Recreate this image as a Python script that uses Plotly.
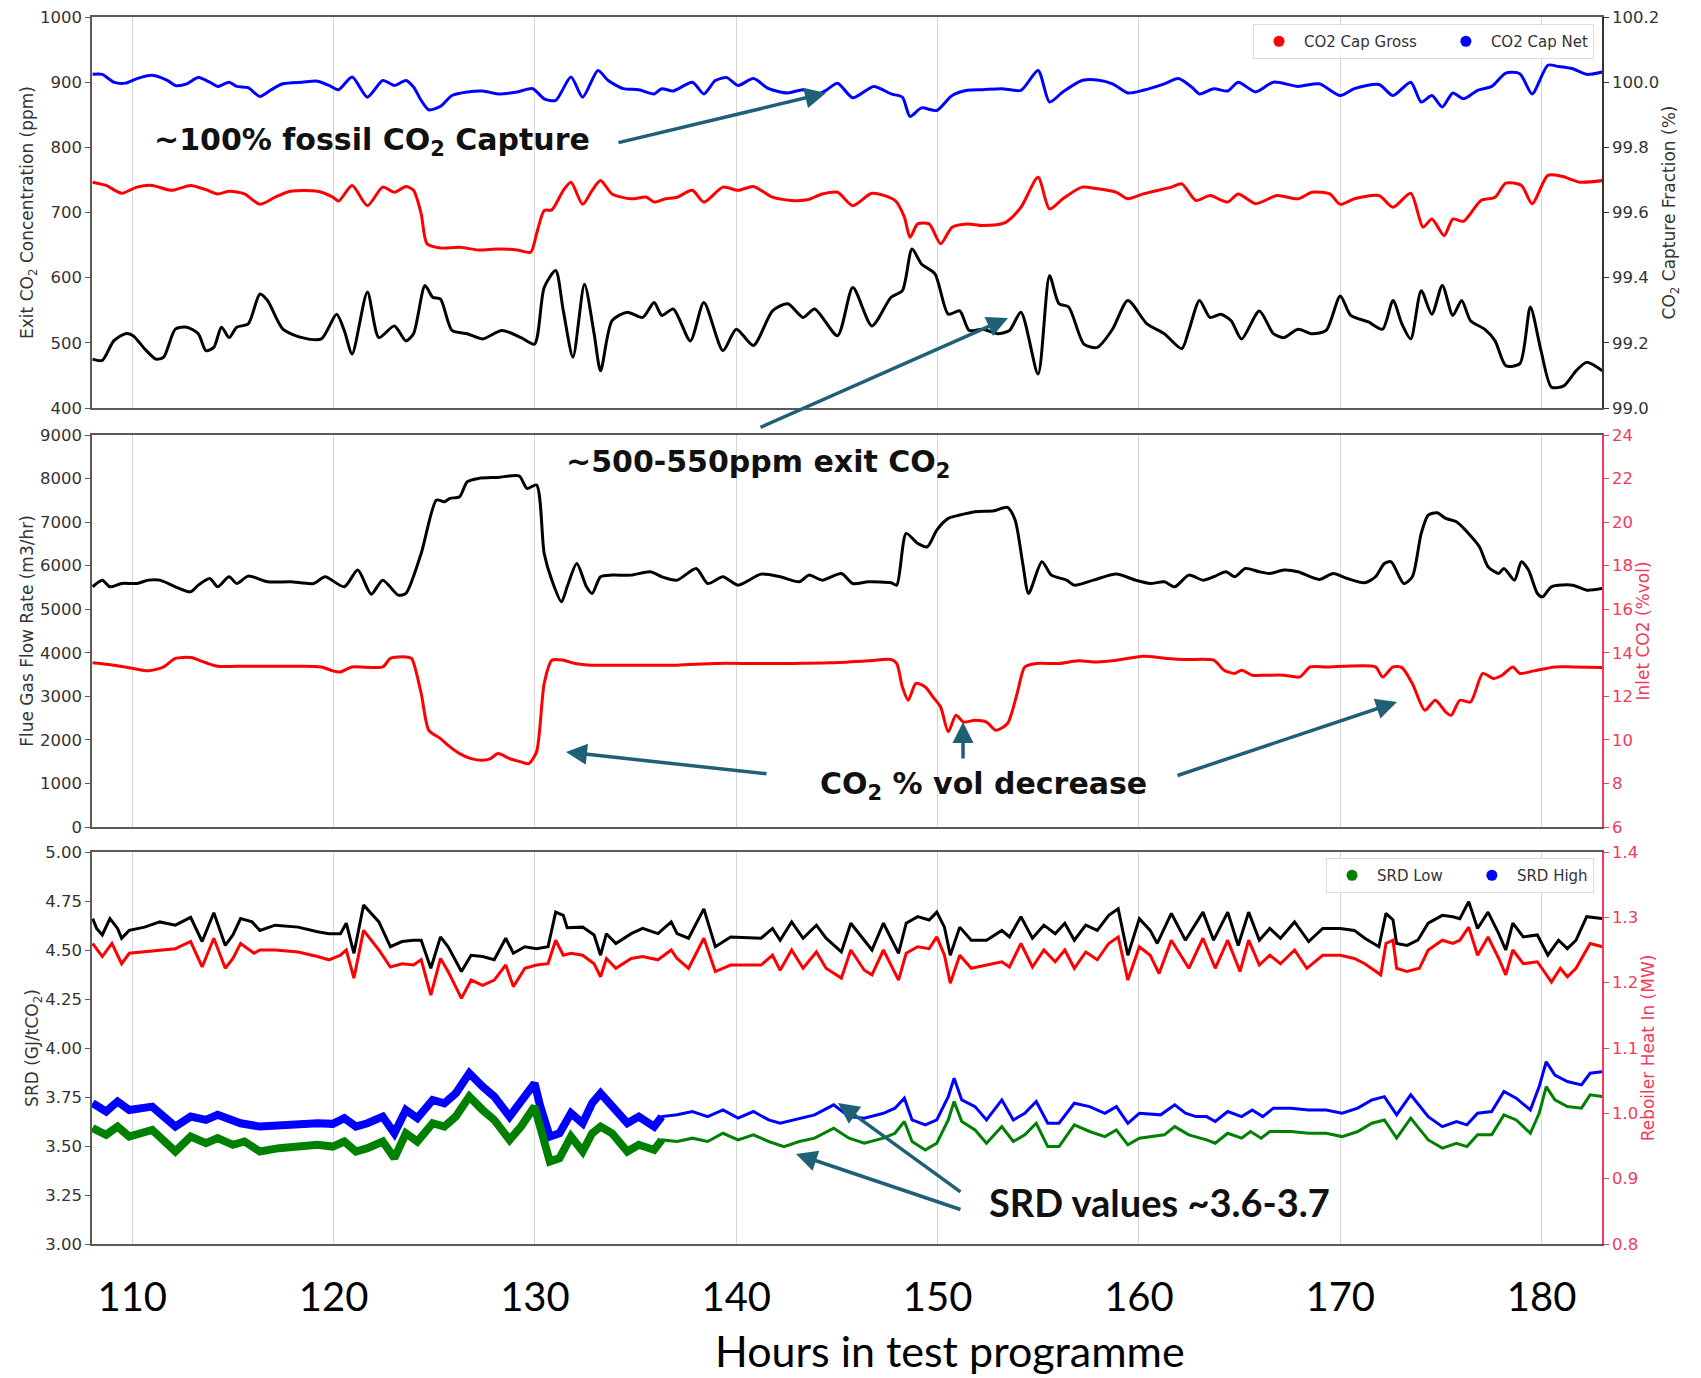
import plotly.graph_objects as go

# ---------------- DATA ----------------
# Panel 1 : exit CO2 (ppm, left) and capture fraction (% , right)
p1_net_x = [108.03,108.51,109.08,109.66,110.23,110.99,111.76,112.14,112.71,113.28,113.85,114.24,114.81,115.19,115.76,116.34,116.91,117.48,118.44,119.20,119.77,120.25,120.92,121.68,122.44,123.02,123.59,123.97,124.35,124.73,125.31,125.88,126.64,127.40,128.17,129.12,129.89,130.46,131.03,131.79,132.37,133.13,
            133.64,134.40,135.16,135.92,136.30,136.87,137.82,138.39,138.96,139.53,140.09,140.85,141.61,142.56,143.32,143.89,144.46,145.03,145.79,146.83,147.69,148.25,148.63,149.20,149.96,150.72,151.48,152.24,153.19,154.14,154.99,155.56,156.22,157.17,157.93,158.69,159.45,160.21,
            161.26,161.96,162.66,163.01,163.71,164.41,164.93,165.80,166.68,167.90,168.95,170.00,170.70,171.92,172.62,173.50,174.02,174.55,175.07,175.59,176.12,176.82,177.52,178.22,178.92,179.53,180.31,180.84,181.54,182.24,183.02]
p1_net_y = [100.024,100.024,100.000,99.997,100.011,100.021,100.005,99.990,99.995,100.014,100.000,99.987,100.000,99.987,99.983,99.956,99.977,99.995,100.000,100.003,99.990,99.977,100.016,99.954,100.005,99.990,100.005,99.985,99.944,99.915,99.926,99.959,99.970,99.973,99.964,99.970,99.980,99.949,99.944,100.016,99.954,100.036,
            100.005,99.980,99.977,99.964,99.980,99.973,100.000,99.964,100.005,100.014,99.990,100.011,99.980,99.967,99.977,99.959,99.975,99.997,99.952,99.987,99.964,99.954,99.895,99.921,99.913,99.959,99.975,99.977,99.980,99.975,100.036,99.939,99.970,100.005,100.007,99.995,99.967,99.975,
            99.995,100.011,99.983,99.964,99.980,99.973,100.000,99.970,100.000,99.987,99.995,99.959,99.980,99.993,99.959,100.000,99.939,99.959,99.924,99.967,99.949,99.975,99.987,100.028,100.026,99.964,100.052,100.048,100.041,100.024,100.031]

p1_gross_x = [108.03,108.70,109.47,110.23,110.99,111.95,112.90,113.66,114.24,114.81,115.57,116.34,117.10,117.86,119.20,119.96,120.25,120.92,121.68,122.44,123.02,123.59,123.97,124.35,124.64,125.31,126.26,127.21,128.17,129.12,129.79,130.08,130.46,130.84,131.41,131.79,132.37,132.84,
              133.26,133.83,134.78,135.54,135.92,136.49,137.06,137.82,138.39,139.34,140.09,140.85,141.80,142.75,143.51,144.27,145.03,145.79,146.74,147.88,148.35,148.63,149.01,149.58,150.15,150.72,151.48,152.24,153.38,154.14,154.99,155.56,156.22,157.17,157.93,158.88,159.45,160.21,
              161.61,162.13,162.83,163.53,164.41,164.93,165.80,166.85,167.90,168.60,169.48,170.00,170.70,171.92,172.62,173.50,174.11,174.55,175.16,175.59,176.12,176.99,177.69,178.22,179.00,179.53,180.31,181.01,181.89,183.02]
p1_gross_y = [99.693,99.683,99.659,99.678,99.683,99.668,99.683,99.670,99.657,99.665,99.657,99.625,99.647,99.665,99.665,99.647,99.635,99.683,99.621,99.678,99.662,99.680,99.668,99.596,99.504,99.491,99.493,99.485,99.488,99.485,99.478,99.534,99.606,99.608,99.668,99.693,99.625,99.668,
              99.698,99.657,99.642,99.647,99.632,99.642,99.647,99.668,99.632,99.678,99.668,99.680,99.647,99.637,99.639,99.657,99.662,99.621,99.659,99.637,99.586,99.524,99.565,99.565,99.504,99.555,99.565,99.560,99.570,99.616,99.708,99.611,99.642,99.678,99.673,99.662,99.642,99.657,
              99.678,99.688,99.637,99.652,99.632,99.657,99.627,99.652,99.642,99.662,99.657,99.625,99.642,99.652,99.616,99.659,99.555,99.580,99.529,99.580,99.573,99.637,99.647,99.690,99.683,99.627,99.714,99.711,99.693,99.698]

p1_exit_x = [108.03,108.51,109.08,109.66,110.04,110.61,111.18,111.56,112.14,112.71,113.28,113.66,114.05,114.43,114.81,115.19,115.76,116.34,116.72,117.48,118.44,119.39,120.15,120.53,120.92,121.68,122.25,123.02,123.59,123.97,124.54,124.92,125.31,125.88,126.64,127.40,128.36,129.31,129.98,130.46,131.03,131.41,131.89,132.46,132.94,
             133.26,133.83,134.59,135.35,135.92,136.30,136.87,137.72,138.39,139.34,140.00,140.85,141.80,142.56,143.32,143.89,145.03,145.79,146.74,147.69,148.25,148.73,149.20,149.87,150.53,151.10,151.57,152.24,152.99,153.57,154.14,154.99,155.56,156.03,156.51,157.27,157.93,158.69,159.45,160.40,
             161.26,162.13,162.48,163.01,163.53,164.06,164.58,165.10,165.98,166.68,167.20,167.90,168.60,169.30,170.00,170.52,171.40,172.10,172.62,173.06,173.50,174.02,174.55,175.07,175.59,176.03,176.47,177.17,177.69,178.22,178.92,179.44,179.97,180.49,181.10,181.71,182.24,183.02]
p1_exit_y = [475,473,503,514,511,491,475,478,521,524,514,488,493,524,508,524,529,575,565,521,508,506,544,519,483,578,508,526,503,514,588,570,567,519,514,506,519,508,498,585,611,549,478,590,514,
             457,534,547,539,562,542,552,503,562,488,521,496,549,560,539,552,511,585,526,570,580,644,621,606,544,549,519,521,514,519,547,452,603,560,555,498,493,521,565,529,
             514,491,519,565,539,544,534,506,549,514,508,521,514,519,572,542,532,521,565,529,506,580,544,588,542,565,534,521,503,465,468,555,488,432,434,457,470,457]

# Panel 2 : flue gas flow (m3/hr, left) and inlet CO2 (%vol, right)
p2_flow_x = [108.03,108.51,108.89,109.47,110.23,110.80,111.37,112.14,112.90,113.28,113.85,114.24,114.81,115.19,115.76,116.72,117.86,119.01,119.58,120.53,121.20,121.87,122.44,123.21,123.59,124.35,125.11,125.50,125.78,126.26,126.64,127.21,128.17,129.22,129.60,130.08,130.46,130.84,131.32,131.60,132.08,132.56,132.84,
             133.26,133.83,134.78,135.73,136.30,137.06,138.01,138.58,139.34,140.09,141.23,142.18,143.13,143.61,144.27,145.22,145.79,146.55,147.69,147.97,148.44,149.01,149.49,149.96,150.53,151.10,151.86,152.81,153.47,153.85,154.23,154.52,155.18,155.65,156.41,156.79,157.74,158.88,159.83,
             160.56,161.26,161.78,162.48,163.18,163.71,164.32,164.76,165.28,165.98,166.50,167.20,167.90,168.95,169.65,170.35,171.22,171.75,172.19,172.53,173.15,173.58,174.02,174.37,174.81,175.24,175.77,176.29,176.91,177.34,177.87,178.13,178.65,179.00,179.35,179.79,180.05,180.49,181.54,182.24,183.02]
p2_flow_y = [5515,5668,5515,5591,5591,5668,5668,5515,5400,5553,5706,5515,5745,5591,5760,5630,5630,5591,5745,5515,5898,5346,5668,5323,5362,6281,7506,7468,7545,7583,7928,8004,8027,8058,7774,7851,6281,5668,5170,5515,6051,5515,5362,
             5745,5783,5783,5859,5745,5668,5936,5591,5745,5553,5806,5745,5630,5783,5668,5821,5591,5630,5607,5553,6740,6511,6434,6817,7085,7162,7238,7261,7338,7047,6051,5362,6089,5783,5668,5553,5668,5806,5668,
             5591,5630,5515,5783,5668,5745,5859,5745,5936,5859,5821,5898,5859,5683,5821,5706,5607,5745,6051,6089,5591,5745,6740,7162,7215,7085,7008,6779,6434,5974,5821,5936,5668,6089,5898,5362,5285,5515,5553,5438,5476]

p2_inlet_x = [108.03,109.08,110.04,110.80,111.56,112.14,112.90,113.66,114.24,115.19,116.72,118.24,119.39,119.96,120.34,120.92,122.44,122.82,123.59,123.87,124.35,124.73,125.31,125.69,126.26,126.83,127.40,127.79,128.17,128.74,129.31,129.69,130.08,130.46,130.84,131.41,131.98,132.84,
              133.26,135.16,137.06,138.96,140.85,142.75,144.65,146.55,147.69,147.97,148.25,148.54,148.92,149.39,149.77,150.15,150.53,150.91,151.29,151.86,152.43,152.90,153.47,153.95,154.33,154.90,156.03,156.98,157.93,158.88,160.21,
              161.43,162.31,163.71,164.23,164.76,165.10,165.63,166.33,167.20,167.99,168.51,169.30,170.17,171.75,172.10,172.62,173.06,173.58,174.20,174.72,175.24,175.51,175.94,176.47,177.08,177.60,178.04,178.57,178.92,179.62,180.66,181.54,183.02]
p2_inlet_y = [13.54,13.43,13.28,13.17,13.35,13.74,13.78,13.54,13.38,13.38,13.38,13.38,13.35,13.17,13.12,13.35,13.35,13.74,13.81,13.74,12.13,10.44,10.06,9.75,9.37,9.14,9.06,9.14,9.37,9.14,8.99,8.91,9.45,12.59,13.66,13.66,13.51,13.43,
              13.43,13.43,13.43,13.51,13.51,13.51,13.54,13.63,13.69,13.51,12.43,11.82,12.59,12.43,11.97,11.51,10.37,11.13,10.82,10.90,10.82,10.44,10.75,12.13,13.35,13.51,13.51,13.63,13.58,13.66,13.84,
              13.74,13.69,13.66,13.20,13.05,13.20,12.97,12.97,12.97,12.89,13.35,13.35,13.38,13.35,12.89,13.35,13.32,12.59,11.36,11.82,11.28,11.13,11.82,11.74,13.05,12.82,12.97,13.35,13.05,13.17,13.35,13.35,13.32]

# Panel 3 : reboiler heat (MW, right) and SRD (GJ/tCO2, left)
p3_heat_a_x = [108.03,108.23,108.51,108.89,109.27,109.47,109.85,110.61,111.37,112.14,112.90,113.47,114.05,114.62,115.00,115.38,115.95,116.34,117.10,118.24,119.20,119.77,120.34,120.63,121.01,121.49,122.25,122.82,123.40,123.97,124.35,124.83,125.31,125.69,126.35,126.83,127.40,127.98,128.55,128.93,129.50,130.08,130.65,131.03,131.41,131.60,132.37,132.94,
               133.26,133.55,134.02,134.78,135.35,136.11,136.77,137.06,137.63,138.39,138.96,139.72,141.23,141.80,142.18,142.75,143.32,143.98,144.46,145.22,145.69,146.36,146.74,147.31,148.06,148.44,149.01,149.58,149.96,150.34,150.63,151.10,151.67,152.43,153.19,153.57,154.14,154.71,155.28,155.84,156.32,156.79,157.36,157.93,158.50,158.97,159.45,160.02,
               160.56,160.91,161.61,162.31,163.18,163.71,164.41,164.93,165.45,165.98,166.50,167.03,167.73,168.43,169.13,170.00,170.70,171.22,171.92,172.27,172.62,172.80,173.32,173.85,174.37,175.07,175.59,175.94,176.38,176.82,177.34,177.87,178.22,178.57,179.09,179.79,180.31,180.84,181.28,181.71,182.24,183.02]
p3_heat_a_y = [1.298,1.283,1.273,1.298,1.283,1.268,1.280,1.285,1.293,1.288,1.300,1.263,1.307,1.257,1.273,1.298,1.293,1.280,1.288,1.285,1.278,1.275,1.275,1.291,1.245,1.319,1.293,1.255,1.263,1.265,1.265,1.222,1.270,1.255,1.217,1.242,1.240,1.235,1.268,1.245,1.255,1.252,1.255,1.308,1.303,1.284,1.285,1.273,
               1.242,1.275,1.260,1.275,1.283,1.275,1.293,1.275,1.268,1.313,1.255,1.270,1.268,1.283,1.265,1.293,1.268,1.288,1.268,1.247,1.291,1.265,1.250,1.291,1.245,1.291,1.301,1.296,1.308,1.285,1.242,1.285,1.265,1.265,1.280,1.270,1.301,1.268,1.288,1.275,1.291,1.265,1.288,1.280,1.303,1.313,1.242,1.298,
               1.280,1.260,1.306,1.265,1.308,1.265,1.308,1.257,1.308,1.265,1.283,1.268,1.293,1.263,1.283,1.283,1.280,1.268,1.255,1.306,1.296,1.260,1.257,1.265,1.291,1.303,1.301,1.298,1.324,1.283,1.308,1.275,1.250,1.291,1.270,1.273,1.242,1.265,1.252,1.265,1.301,1.298]

p3_heat_b_x = [108.03,108.51,108.99,109.47,109.85,110.61,111.37,112.14,112.90,113.47,114.05,114.62,115.00,115.38,116.05,116.34,117.10,118.24,119.20,119.77,120.34,120.63,121.01,121.49,122.25,122.82,123.40,123.97,124.35,124.83,125.31,125.69,126.35,126.83,127.40,127.98,128.55,128.93,129.50,130.08,130.65,131.03,131.41,131.79,132.37,132.94,
               133.26,133.55,134.02,134.78,135.35,136.11,136.77,137.06,137.63,138.39,138.96,139.72,141.23,141.80,142.18,142.75,143.32,143.98,144.46,145.22,145.69,146.36,146.74,147.31,148.06,148.44,149.01,149.58,149.96,150.34,150.63,151.10,151.67,152.43,153.19,153.57,154.14,154.71,155.28,155.84,156.32,156.79,157.36,157.93,158.50,158.97,159.45,160.02,
               160.56,161.00,161.61,162.48,163.18,163.79,164.41,165.02,165.45,165.98,166.50,167.03,167.73,168.34,169.13,170.00,170.70,171.22,172.01,172.27,172.62,172.80,173.32,173.93,174.37,175.07,175.59,175.94,176.38,176.82,177.34,177.87,178.22,178.57,179.09,179.79,180.49,180.93,181.28,181.71,182.41,183.02]
p3_heat_b_y = [1.260,1.240,1.260,1.229,1.245,1.247,1.250,1.252,1.263,1.224,1.268,1.222,1.237,1.260,1.245,1.250,1.250,1.247,1.240,1.235,1.242,1.250,1.207,1.280,1.250,1.224,1.229,1.227,1.235,1.181,1.237,1.217,1.176,1.204,1.196,1.204,1.227,1.194,1.222,1.227,1.229,1.265,1.242,1.245,1.242,1.229,
               1.209,1.237,1.222,1.237,1.240,1.235,1.250,1.237,1.222,1.268,1.217,1.227,1.227,1.242,1.219,1.250,1.222,1.247,1.222,1.207,1.250,1.219,1.212,1.250,1.204,1.245,1.255,1.252,1.270,1.242,1.199,1.242,1.222,1.227,1.232,1.224,1.260,1.224,1.250,1.232,1.250,1.222,1.247,1.235,1.260,1.270,1.204,1.255,
               1.242,1.214,1.265,1.222,1.268,1.222,1.265,1.217,1.265,1.227,1.242,1.229,1.250,1.222,1.242,1.242,1.237,1.229,1.212,1.260,1.265,1.222,1.217,1.222,1.250,1.265,1.260,1.265,1.285,1.242,1.270,1.237,1.212,1.250,1.229,1.232,1.201,1.222,1.209,1.222,1.260,1.255]

srd_high_x = [108.03,108.70,109.27,109.85,110.99,112.14,112.90,113.66,114.24,114.81,115.38,116.34,117.29,118.24,119.20,119.96,120.53,121.11,121.68,122.44,123.02,123.59,124.16,124.92,125.50,126.07,126.74,127.40,127.98,128.74,129.31,129.98,130.27,130.74,131.22,131.79,132.37,132.84,
              133.26,133.83,134.59,135.16,135.92,136.30,137.06,137.82,138.58,139.34,140.09,140.85,141.61,142.18,143.13,143.89,144.84,145.60,146.36,147.31,147.88,148.35,148.73,149.39,149.96,150.53,150.82,151.20,151.86,152.43,153.19,153.76,154.33,154.90,155.47,156.03,156.79,157.55,158.31,158.88,159.45,160.02,
              161.08,161.78,162.31,162.83,163.36,163.79,164.41,165.10,165.63,166.15,166.68,167.55,168.43,169.30,170.09,170.87,171.57,172.19,172.80,173.50,174.37,175.07,175.77,176.29,176.82,177.52,178.13,178.74,179.44,179.88,180.23,180.66,181.28,181.98,182.41,183.02]
srd_high_y = [3.718,3.676,3.727,3.684,3.701,3.599,3.650,3.633,3.659,3.633,3.616,3.599,3.608,3.616,3.616,3.613,3.642,3.599,3.616,3.650,3.565,3.684,3.642,3.735,3.718,3.769,3.871,3.803,3.752,3.650,3.735,3.820,3.701,3.548,3.565,3.667,3.616,3.718,
              3.769,3.701,3.616,3.650,3.599,3.650,3.659,3.676,3.650,3.684,3.642,3.676,3.633,3.616,3.642,3.659,3.710,3.650,3.642,3.667,3.693,3.744,3.633,3.608,3.633,3.752,3.846,3.735,3.701,3.633,3.735,3.633,3.667,3.727,3.616,3.616,3.718,3.701,3.667,3.701,3.616,3.667,
              3.659,3.710,3.667,3.650,3.650,3.625,3.676,3.650,3.684,3.650,3.693,3.693,3.684,3.684,3.667,3.693,3.735,3.752,3.659,3.761,3.650,3.599,3.625,3.608,3.667,3.676,3.778,3.744,3.684,3.803,3.930,3.862,3.829,3.812,3.871,3.879]

srd_low_x = [108.03,108.70,109.27,109.85,110.99,112.14,112.90,113.66,114.24,115.00,115.57,116.34,117.29,118.24,119.20,119.96,120.53,121.11,121.68,122.44,123.02,123.59,124.16,124.92,125.50,126.07,126.74,127.40,127.98,128.74,129.31,129.98,130.27,130.74,131.22,131.79,132.37,132.84,
             133.26,133.83,134.59,135.16,135.92,136.30,137.06,137.82,138.58,139.34,140.09,140.85,141.61,142.37,143.13,143.89,144.84,145.60,146.36,147.31,147.88,148.35,148.73,149.39,149.96,150.53,150.82,151.20,151.86,152.43,153.19,153.76,154.33,154.90,155.47,156.03,156.79,157.55,158.31,158.88,159.45,160.02,
             161.26,161.78,162.48,163.36,163.79,164.41,165.10,165.54,166.07,166.50,167.55,168.43,169.30,170.09,170.87,171.57,172.19,172.80,173.50,174.37,175.07,175.77,176.29,176.82,177.52,178.13,178.74,179.44,179.88,180.23,180.66,181.28,181.98,182.41,183.02]
srd_low_y = [3.591,3.557,3.599,3.548,3.582,3.472,3.548,3.514,3.540,3.506,3.523,3.472,3.489,3.497,3.506,3.497,3.523,3.472,3.489,3.523,3.438,3.565,3.523,3.616,3.599,3.650,3.752,3.684,3.633,3.531,3.599,3.701,3.582,3.421,3.438,3.548,3.472,3.565,
             3.599,3.565,3.472,3.506,3.480,3.531,3.523,3.540,3.523,3.565,3.531,3.557,3.523,3.497,3.523,3.540,3.591,3.540,3.514,3.540,3.565,3.625,3.523,3.480,3.514,3.633,3.727,3.625,3.582,3.514,3.599,3.523,3.557,3.616,3.497,3.497,3.608,3.574,3.548,3.582,3.506,3.540,
             3.557,3.599,3.557,3.531,3.514,3.565,3.540,3.574,3.540,3.574,3.574,3.565,3.565,3.548,3.574,3.616,3.633,3.540,3.642,3.531,3.489,3.514,3.497,3.557,3.557,3.659,3.633,3.565,3.667,3.803,3.735,3.701,3.693,3.761,3.752]

hour_ticks = [110, 120, 130, 140, 150, 160, 170, 180]

# ---------------- STYLE ----------------
W, H = 1701, 1378
ML, MR, MT, MB = 92, 99, 17, 134
PW, PH = W - ML - MR, H - MT - MB
AX_RED = "#ef3a5d"
AXC = "#5a5a5a"
ARROW = "#1f6077"
TICK_SZ, TITLE_SZ = 16.5, 17
PAD = "\u00a0" * 4

def py(y_px):
    return (H - MB - y_px) / PH

def px(x_px):
    return (x_px - ML) / PW

doms = [[py(408), 1.0], [py(827), py(435)], [0.0, py(852)]]

fig = go.Figure()

def line(x, y, xa, ya, color, width=3, smooth=False):
    ln = dict(color=color, width=width)
    if smooth:
        ln.update(shape="spline", smoothing=0.7)
    fig.add_trace(go.Scatter(x=x, y=y, mode="lines", xaxis=xa, yaxis=ya, line=ln,
                             showlegend=False, hoverinfo="skip"))

# panel 1
line(p1_exit_x, p1_exit_y, "x", "y", "black", smooth=True)
line(p1_gross_x, p1_gross_y, "x", "y2", "#ff0000", smooth=True)
line(p1_net_x, p1_net_y, "x", "y2", "#0000ff", smooth=True)
# panel 2
line(p2_flow_x, p2_flow_y, "x2", "y3", "black", smooth=True)
line(p2_inlet_x, p2_inlet_y, "x2", "y4", "#ff0000", smooth=True)
# panel 3
line(p3_heat_a_x, p3_heat_a_y, "x3", "y6", "black")
line(p3_heat_b_x, p3_heat_b_y, "x3", "y6", "#ff0000")
nh = sum(1 for v in srd_high_x if v <= 136.3)
nl = sum(1 for v in srd_low_x if v <= 136.3)
line(srd_high_x, srd_high_y, "x3", "y5", "#0000ff", width=3)
line(srd_low_x, srd_low_y, "x3", "y5", "#008000", width=3)
line(srd_high_x[:nh], srd_high_y[:nh], "x3", "y5", "#0000ff", width=8)
line(srd_low_x[:nl], srd_low_y[:nl], "x3", "y5", "#008000", width=8)

# legend-only marker entries
for nm, col, lg in [("CO2 Cap Gross" + PAD, "#ff0000", "legend"), ("CO2 Cap Net", "#0000ff", "legend"),
                    ("SRD Low" + PAD, "#008000", "legend2"), ("SRD High", "#0000ff", "legend2")]:
    fig.add_trace(go.Scatter(x=[None], y=[None], mode="markers", name=nm,
                             marker=dict(color=col, size=11), legend=lg,
                             xaxis="x", yaxis="y"))

xcommon = dict(range=[108, 183], tickvals=hour_ticks, showgrid=True,
               gridcolor="#d6d6d6", gridwidth=1, showline=True, linecolor=AXC,
               linewidth=1.5, mirror=True, zeroline=False, ticks="")
fig.update_layout(
    xaxis=dict(**xcommon, anchor="y", showticklabels=False, domain=[0, 1]),
    xaxis2=dict(**xcommon, anchor="y3", showticklabels=False, domain=[0, 1]),
    xaxis3=dict(**xcommon, anchor="y5", showticklabels=True, domain=[0, 1],
                tickfont=dict(family="Lato", size=40, color="black"),
                ticklabelstandoff=17),
)

def yax(dom, rng, dtick, title, side, color, fmt, anchor, overlay=None, standoff=2):
    d = dict(domain=dom, range=rng, dtick=dtick, tick0=rng[0], side=side,
             showgrid=False, zeroline=False, showline=True, linewidth=1.5,
             linecolor=color if side == "right" else AXC,
             ticks="outside", ticklen=5, tickcolor=color if side == "right" else AXC,
             tickfont=dict(family="DejaVu Sans", size=TICK_SZ, color=color),
             tickformat=fmt, anchor=anchor,
             title=dict(text=title, font=dict(family="DejaVu Sans", size=TITLE_SZ, color=color),
                        standoff=standoff))
    if overlay:
        d["overlaying"] = overlay
    return d

fig.update_layout(
    yaxis=yax(doms[0], [400, 1000], 100, "Exit CO<sub>2</sub> Concentration (ppm)", "left", "#333333", "d", "x"),
    yaxis2=yax(doms[0], [99.0, 100.2], 0.2, "CO<sub>2</sub> Capture Fraction (%)", "right", "#333333", ".1f", "x", "y", 5),
    yaxis3=yax(doms[1], [0, 9000], 1000, "Flue Gas Flow Rate (m3/hr)", "left", "#333333", "d", "x2"),
    yaxis4=yax(doms[1], [6, 24], 2, "Inlet CO2 (%vol)", "right", AX_RED, "d", "x2", "y3", 5),
    yaxis5=yax(doms[2], [3.0, 5.0], 0.25, "SRD (GJ/tCO<sub>2</sub>)", "left", "#333333", ".2f", "x3"),
    yaxis6=yax(doms[2], [0.8, 1.4], 0.1, "Reboiler Heat In (MW)", "right", AX_RED, ".1f", "x3", "y5", 4),
)

legstyle = dict(orientation="h", xanchor="right", yanchor="top", bgcolor="rgba(255,255,255,0.85)",
                bordercolor="#dddddd", borderwidth=1, itemwidth=40,
                font=dict(family="DejaVu Sans", size=15, color="#333333"))
fig.update_layout(
    legend=dict(**legstyle, x=px(1594), y=py(24)),
    legend2=dict(**legstyle, x=px(1594), y=py(858)),
)

BF = dict(family="DejaVu Sans", size=30, color="#111111")
BF2 = dict(family="Lato", size=38, color="#111111")
ann = [
    dict(text="<b>~100% fossil CO<sub>2</sub> Capture</b>", x=px(152), y=py(141), font=BF),
    dict(text="<b>~500-550ppm exit CO<sub>2</sub></b>", x=px(564), y=py(464), font=BF),
    dict(text="<b>CO<sub>2</sub> % vol decrease</b>", x=px(818), y=py(785), font=BF),
    dict(text="<b>SRD values ~3.6-3.7</b>", x=px(987), y=py(1202), font=BF2),
]
annotations = []
for a in ann:
    annotations.append(dict(text=a["text"], x=a["x"], y=a["y"], xref="paper", yref="paper",
                            xanchor="left", yanchor="middle", showarrow=False, font=a["font"]))
arrows = [((826, 93), (617, 143)), ((1008, 318), (759, 428)), ((566, 752), (768, 774)),
          ((963, 722), (963, 760)), ((1397, 702), (1176, 776)), ((838, 1103), (962, 1193)),
          ((796, 1154), (962, 1210))]
for (hx, hy), (tx, ty) in arrows:
    annotations.append(dict(x=px(hx), y=py(hy), xref="paper", yref="paper", text="",
                            showarrow=True, axref="pixel", ayref="pixel",
                            ax=tx - hx, ay=ty - hy, arrowhead=2, arrowsize=1.2,
                            arrowwidth=3.5, arrowcolor=ARROW))
annotations.append(dict(text="Hours in test programme", x=px(950), y=py(1350), xref="paper",
                        yref="paper", xanchor="center", yanchor="middle", showarrow=False,
                        font=dict(family="Lato", size=43, color="black")))

fig.update_layout(
    width=W, height=H, margin=dict(l=ML, r=MR, t=MT, b=MB, autoexpand=False),
    paper_bgcolor="white", plot_bgcolor="white",
    annotations=annotations,
)

fig.write_html("out.html")
